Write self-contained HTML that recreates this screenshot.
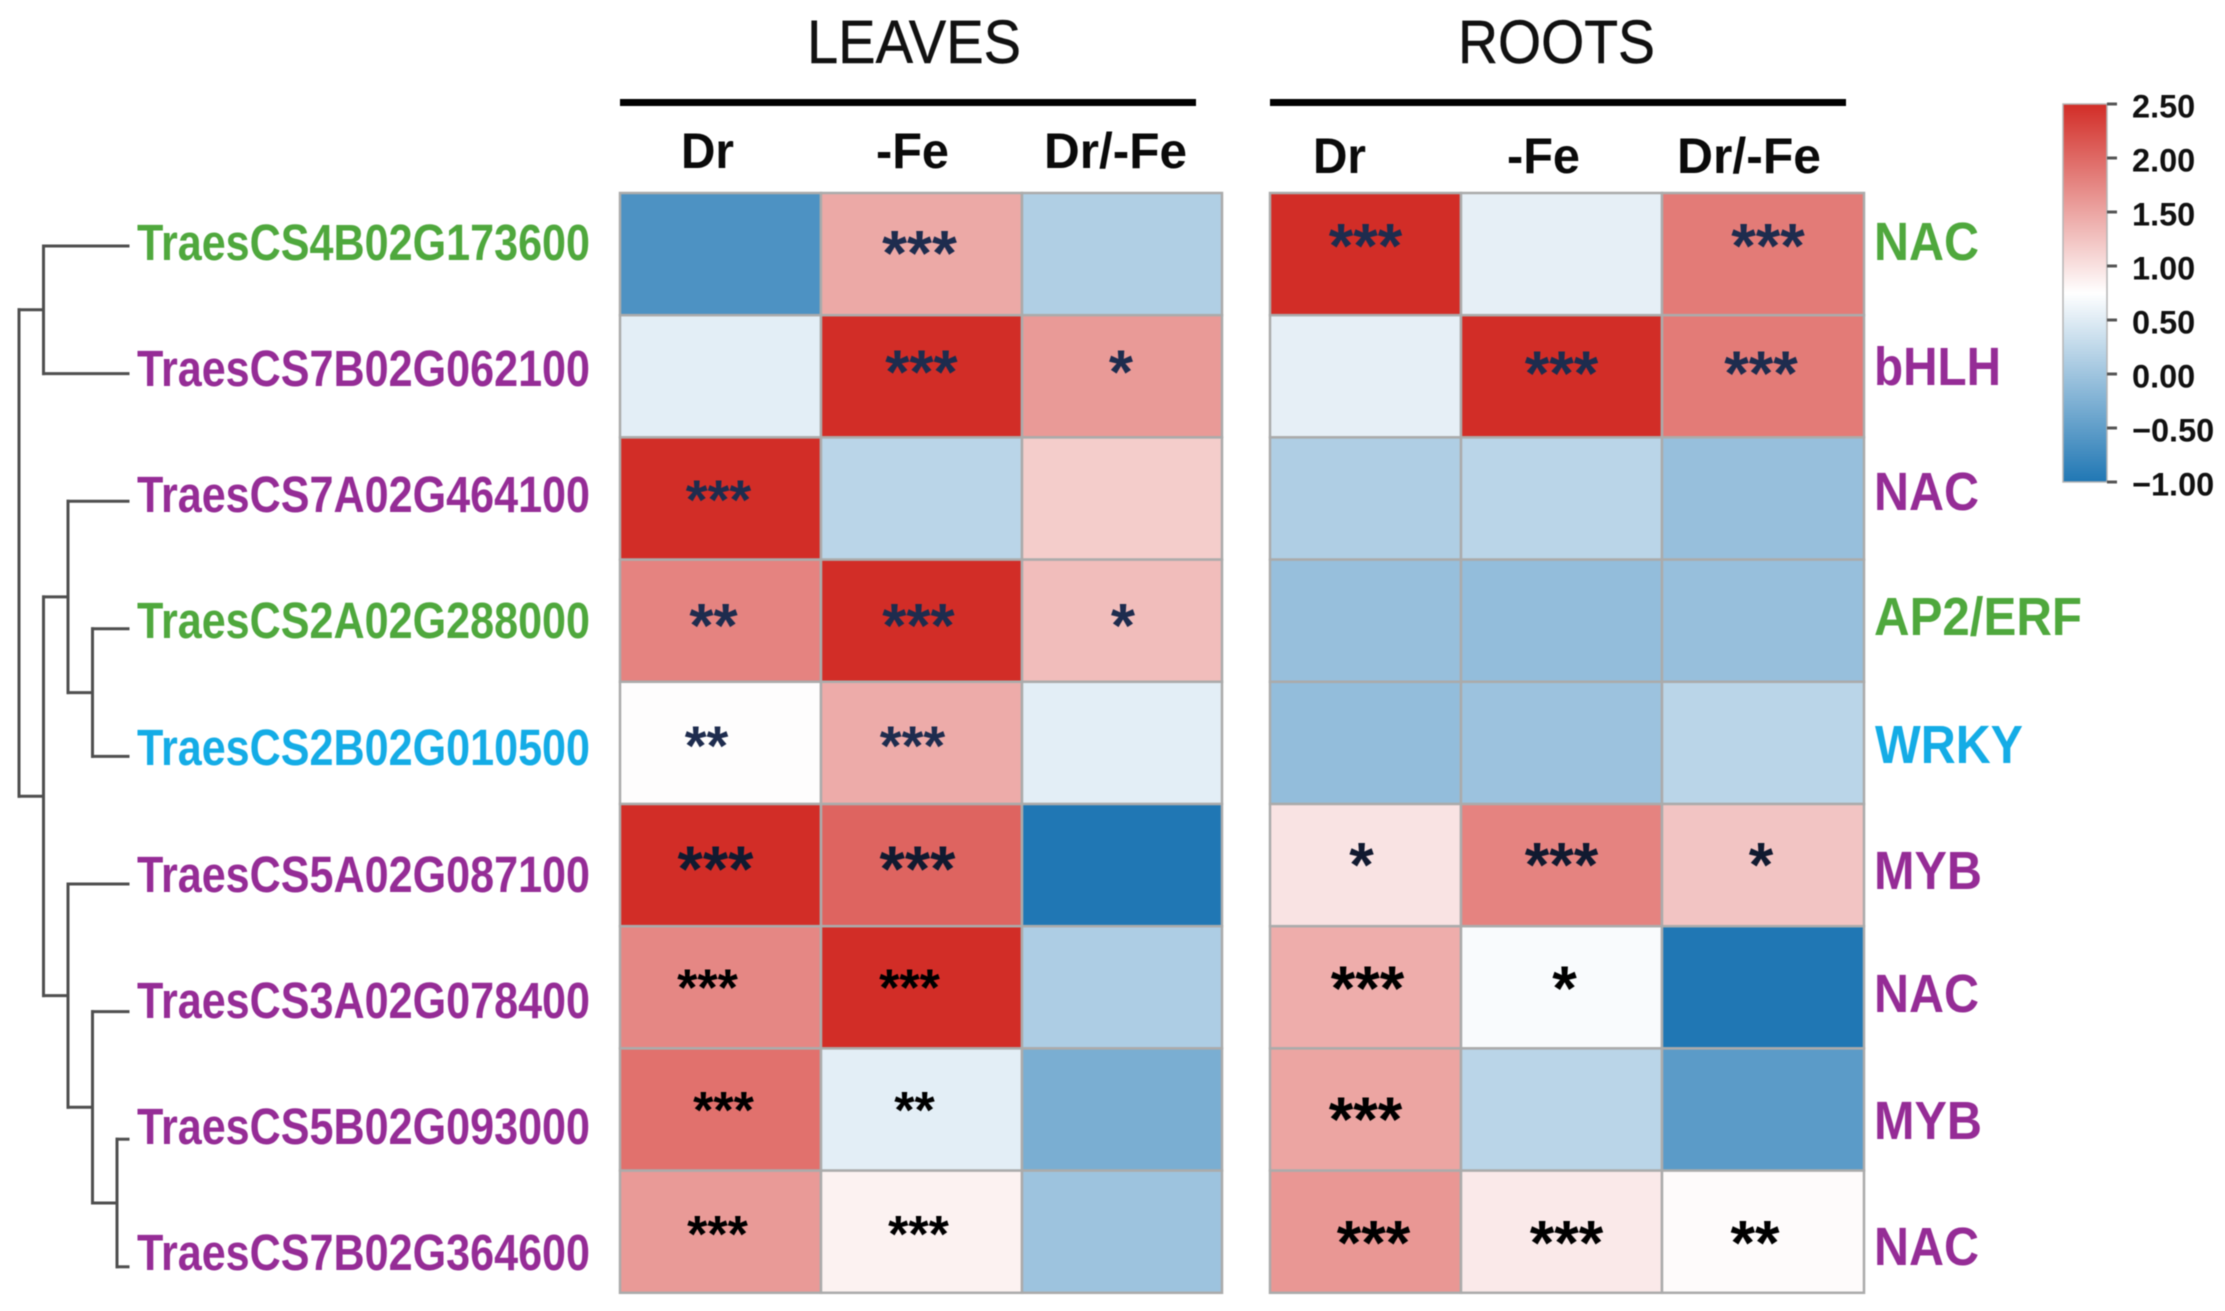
<!DOCTYPE html>
<html lang="en">
<head>
<meta charset="utf-8">
<title>Heatmap of transcription factor expression in leaves and roots</title>
<style>
html,body{margin:0;padding:0;background:#fff;}
svg{display:block;width:2225px;height:1311px;font-family:"Liberation Sans",sans-serif;filter:blur(0.6px);}
.title{font-size:61px;fill:#111;stroke:#111;stroke-width:0.5px;}
.col{font-size:50px;font-weight:700;fill:#0a0a0a;}
.gene{font-size:51px;font-weight:700;}
.fam{font-size:54px;font-weight:700;}
.green{fill:#4FA83D;}
.purple{fill:#952C96;}
.cyan{fill:#14ACE6;}
</style>
</head>
<body>
<svg id="chart" xmlns="http://www.w3.org/2000/svg" width="2225" height="1311" viewBox="0 0 2225 1311">
  <rect width="2225" height="1311" fill="#fff"/>
  <g id="dendrogram"></g>

  <text class="title" x="807" y="63" textLength="214" lengthAdjust="spacingAndGlyphs">LEAVES</text>
  <text class="title" x="1458" y="63" textLength="197" lengthAdjust="spacingAndGlyphs">ROOTS</text>
  <rect x="620" y="99" width="576" height="7" fill="#000"/>
  <rect x="1270" y="99" width="576" height="7" fill="#000"/>

  <text class="col" x="681" y="168" textLength="53" lengthAdjust="spacingAndGlyphs">Dr</text>
  <text class="col" x="876" y="168" textLength="73" lengthAdjust="spacingAndGlyphs">-Fe</text>
  <text class="col" x="1044" y="168" textLength="143" lengthAdjust="spacingAndGlyphs">Dr/-Fe</text>
  <text class="col" x="1313" y="173" textLength="53" lengthAdjust="spacingAndGlyphs">Dr</text>
  <text class="col" x="1507" y="173" textLength="73" lengthAdjust="spacingAndGlyphs">-Fe</text>
  <text class="col" x="1677" y="173" textLength="144" lengthAdjust="spacingAndGlyphs">Dr/-Fe</text>

  <g>
    <text class="gene green" x="137" y="260" textLength="453" lengthAdjust="spacingAndGlyphs">TraesCS4B02G173600</text>
    <text class="gene purple" x="137" y="386" textLength="453" lengthAdjust="spacingAndGlyphs">TraesCS7B02G062100</text>
    <text class="gene purple" x="137" y="512" textLength="453" lengthAdjust="spacingAndGlyphs">TraesCS7A02G464100</text>
    <text class="gene green" x="137" y="638" textLength="453" lengthAdjust="spacingAndGlyphs">TraesCS2A02G288000</text>
    <text class="gene cyan" x="137" y="765" textLength="453" lengthAdjust="spacingAndGlyphs">TraesCS2B02G010500</text>
    <text class="gene purple" x="137" y="892" textLength="453" lengthAdjust="spacingAndGlyphs">TraesCS5A02G087100</text>
    <text class="gene purple" x="137" y="1018" textLength="453" lengthAdjust="spacingAndGlyphs">TraesCS3A02G078400</text>
    <text class="gene purple" x="137" y="1144" textLength="453" lengthAdjust="spacingAndGlyphs">TraesCS5B02G093000</text>
    <text class="gene purple" x="137" y="1270" textLength="453" lengthAdjust="spacingAndGlyphs">TraesCS7B02G364600</text>
  </g>

  <g id="leaves-panel"></g>
  <g id="roots-panel"></g>

  <g>
    <text class="fam green" x="1874" y="260" textLength="105" lengthAdjust="spacingAndGlyphs">NAC</text>
    <text class="fam purple" x="1874" y="385" textLength="127" lengthAdjust="spacingAndGlyphs">bHLH</text>
    <text class="fam purple" x="1874" y="510" textLength="105" lengthAdjust="spacingAndGlyphs">NAC</text>
    <text class="fam green" x="1874" y="635" textLength="208" lengthAdjust="spacingAndGlyphs">AP2/ERF</text>
    <text class="fam cyan" x="1875" y="763" textLength="148" lengthAdjust="spacingAndGlyphs">WRKY</text>
    <text class="fam purple" x="1874" y="889" textLength="108" lengthAdjust="spacingAndGlyphs">MYB</text>
    <text class="fam purple" x="1874" y="1012" textLength="105" lengthAdjust="spacingAndGlyphs">NAC</text>
    <text class="fam purple" x="1874" y="1139" textLength="108" lengthAdjust="spacingAndGlyphs">MYB</text>
    <text class="fam purple" x="1874" y="1265" textLength="105" lengthAdjust="spacingAndGlyphs">NAC</text>
  </g>

  <defs>
    <linearGradient id="cbar-gradient" x1="0" y1="0" x2="0" y2="1"></linearGradient>
  </defs>
  <g id="colorbar"></g>
</svg>

<script>
// Expression values (rows = genes, columns = Dr, -Fe, Dr/-Fe)
const leavesValues = [
  [-0.65, 1.47, 0.13],
  [0.53, 2.5, 1.59],
  [2.5, 0.21, 1.17],
  [1.78, 2.5, 1.30],
  [0.77, 1.45, 0.53],
  [2.5, 2.04, -1.0],
  [1.75, 2.5, 0.11],
  [1.93, 0.53, -0.29],
  [1.59, 0.86, -0.02]
];
const rootsValues = [
  [2.5, 0.55, 1.85],
  [0.55, 2.5, 1.85],
  [0.12, 0.21, -0.07],
  [-0.07, -0.10, -0.07],
  [-0.10, -0.03, 0.21],
  [0.98, 1.78, 1.24],
  [1.43, 0.70, -1.0],
  [1.50, 0.21, -0.54],
  [1.62, 0.93, 0.78]
];
// Significance annotations
const leavesStars = [
  ["", "***", ""],
  ["", "***", "*"],
  ["***", "", ""],
  ["**", "***", "*"],
  ["**", "***", ""],
  ["***", "***", ""],
  ["***", "***", ""],
  ["***", "**", ""],
  ["***", "***", ""]
];
const rootsStars = [
  ["***", "", "***"],
  ["", "***", "***"],
  ["", "", ""],
  ["", "", ""],
  ["", "", ""],
  ["*", "***", "*"],
  ["***", "*", ""],
  ["***", "", ""],
  ["***", "***", "**"]
];
const tickValues = [2.5, 2, 1.5, 1, 0.5, 0, -0.5, -1];
const tickLabels = ["2.50", "2.00", "1.50", "1.00", "0.50", "0.00", "\u22120.50", "\u22121.00"];
// Dendrogram topology over gene row indices
const tree = [[0, 1], [[2, [3, 4]], [5, [6, [7, 8]]]]];

const NS = "http://www.w3.org/2000/svg";
function mk(tag, attrs, parent) {
  const el = document.createElementNS(NS, tag);
  for (const k in attrs) el.setAttribute(k, attrs[k]);
  parent.appendChild(el);
  return el;
}

// Colour scale: blue -> white -> red
const LOW = [32, 119, 180], MID = [255, 255, 255], HIGH = [210, 45, 39];
const V_MIN = -1, V_MID = 0.75, V_MAX = 2.5;
function color(v) {
  const c = Math.max(V_MIN, Math.min(V_MAX, v));
  const a = c < V_MID ? LOW : MID, b = c < V_MID ? MID : HIGH;
  const t = c < V_MID ? (c - V_MIN) / (V_MID - V_MIN) : (c - V_MID) / (V_MAX - V_MID);
  const rgb = a.map((x, i) => Math.round(x + (b[i] - x) * t));
  return "rgb(" + rgb.join(",") + ")";
}

// Row axis shared by both panels
const ROW_TOP = 193, ROW_H = 122.2;
function yRow(r) { return ROW_TOP + ROW_H * r; }

// Panel layout: column boundaries, star nudges [dx, dy, font size] from the cell centre
const leavesLayout = {
  edges: [620, 821, 1022, 1222],
  nudge: [
    [null, [-2, -9, 64], null],
    [null, [0, -12, 62], [-1, -12, 62]],
    [[-2, -6, 56], null, null],
    [[-7, -3, 62], [-3, -3, 62], [1, -3, 62]],
    [[-14, -4, 56], [-9, -4, 56], null],
    [[-5, -4, 65], [-4, -4, 65], null],
    [[-13, -6, 52], [-12, -6, 52], null],
    [[3, -6, 52], [-7, -6, 52], null],
    [[-3, -4, 52], [-3, -4, 52], null]
  ]
};
const rootsLayout = {
  edges: [1270, 1461, 1662, 1864],
  nudge: [
    [[0, -16, 63], null, [5, -16, 63]],
    [null, [0, -11, 63], [-2, -11, 63]],
    [null, null, null],
    [null, null, null],
    [null, null, null],
    [[-4, -8, 63], [0, -8, 63], [-2, -8, 63]],
    [[2, -7, 63], [3, -7, 63], null],
    [[0, 2, 63], null, null],
    [[8, 3, 63], [5, 3, 63], [-8, 3, 63]]
  ]
};

function drawPanel(group, values, stars, layout) {
  const cellLayer = mk("g", {}, group);
  const starLayer = mk("g", {}, group);
  values.forEach(function (row, r) {
    row.forEach(function (v, c) {
      const x0 = layout.edges[c], x1 = layout.edges[c + 1];
      const rect = mk("rect", {
        x: x0, y: yRow(r), width: x1 - x0, height: ROW_H,
        fill: color(v), stroke: "#ababab", "stroke-width": 2.5
      }, cellLayer);
      
      

      const s = stars[r][c];
      const n = layout.nudge[r][c];
      if (s && n) {
        const cx = (x0 + x1) / 2 + n[0];
        const cy = yRow(r) + ROW_H / 2 + n[1];
        const t = mk("text", {
          x: cx, y: cy + 0.47 * n[2],
          "text-anchor": "middle", "font-size": n[2], "font-weight": 700,
          fill: r < 5 ? "#1e2c4e" : (r === 5 ? "#111a30" : "#000")
        }, starLayer);
        
        
        t.textContent = s;
      }
    });
  });
}
drawPanel(document.getElementById("leaves-panel"), leavesValues, leavesStars, leavesLayout);
drawPanel(document.getElementById("roots-panel"), rootsValues, rootsStars, rootsLayout);

// Dendrogram
const dGroup = document.getElementById("dendrogram");
function xDepth(d) { return 19 + 24.5 * d; }
function yTip(i) { return 246 + 127.6 * i; }
const TIP_X = 128;
function dLine(x1, y1, x2, y2) {
  const l = mk("line", { x1: x1, y1: y1, x2: x2, y2: y2, stroke: "#4f4f4f", "stroke-width": 3, "stroke-linecap": "square" }, dGroup);
  
  
}
function drawNode(node, depth) {
  if (typeof node === "number") return { y: yTip(node), x: TIP_X };
  const x = xDepth(depth);
  const a = drawNode(node[0], depth + 1);
  const b = drawNode(node[1], depth + 1);
  dLine(x, a.y, a.x, a.y);
  dLine(x, b.y, b.x, b.y);
  dLine(x, a.y, x, b.y);
  return { y: (a.y + b.y) / 2, x: x };
}
drawNode(tree, 0);

// Colour bar
const CB_TOP = 104, CB_BOTTOM = 482, CB_LEFT = 2063, CB_RIGHT = 2107;
function yScale(v) { return CB_TOP + (V_MAX - v) / (V_MAX - V_MIN) * (CB_BOTTOM - CB_TOP); }
const grad = document.getElementById("cbar-gradient");
[V_MAX, V_MID, V_MIN].forEach(function (v) {
  mk("stop", { offset: (yScale(v) - CB_TOP) / (CB_BOTTOM - CB_TOP), "stop-color": color(v) }, grad);
});
const cb = document.getElementById("colorbar");
const cbRect = mk("rect", {
  x: CB_LEFT, y: CB_TOP, width: CB_RIGHT - CB_LEFT, height: CB_BOTTOM - CB_TOP,
  fill: "url(#cbar-gradient)", stroke: "#b5b5b5", "stroke-width": 1.5
}, cb);


tickValues.forEach(function (v, i) {
  const tick = mk("line", { x1: CB_RIGHT, x2: CB_RIGHT + 10, y1: yScale(v), y2: yScale(v), stroke: "#555", "stroke-width": 3 }, cb);
  
  
  const label = mk("text", { x: 2132, y: yScale(v) + 13.5, "font-size": 32.5, "font-weight": 700, fill: "#111" }, cb);
  
  
  label.textContent = tickLabels[i];
});
</script>
</body>
</html>
